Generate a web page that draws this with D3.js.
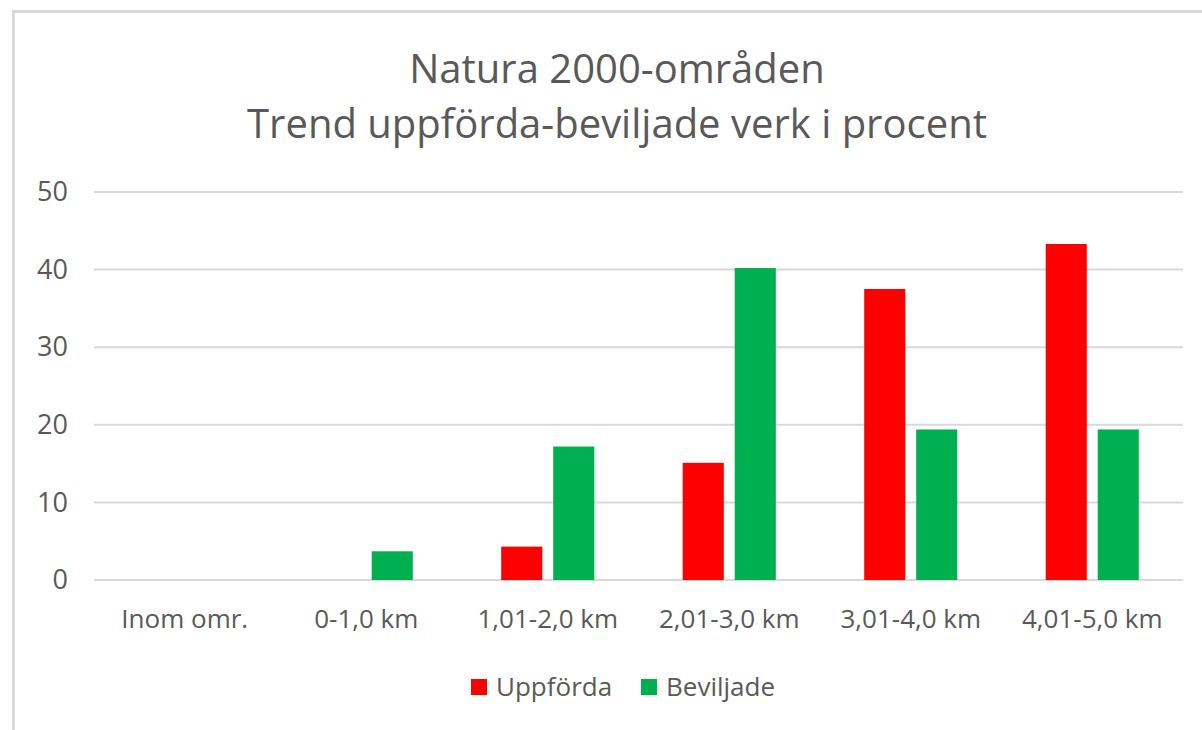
<!DOCTYPE html>
<html>
<head>
<meta charset="utf-8">
<script src="https://cdn.jsdelivr.net/npm/d3@7"></script>
<style>
  body { margin: 0; background: #fff; }
  svg { display: block; font-family: "Open Sans", sans-serif; }
</style>
</head>
<body>
<div id="chart"></div>
<script>
const categories = ['Inom omr.', '0-1,0 km', '1,01-2,0 km', '2,01-3,0 km', '3,01-4,0 km', '4,01-5,0 km'];
const seriesNames = ['Uppförda', 'Beviljade'];
const uppforda = [0, 0, 4.3, 15.1, 37.5, 43.3];
const beviljade = [0, 3.7, 17.2, 40.2, 19.4, 19.4];
const yTicks = [0, 10, 20, 30, 40, 50];
const titleLines = ['Natura 2000-områden', 'Trend uppförda-beviljade verk i procent'];

const W = 1202, H = 730;
const margin = { left: 94, right: 19, top: 192, bottom: 150 };
const colors = { 'Uppförda': '#ff0000', 'Beviljade': '#00b050' };
const textColor = '#595959';

const svg = d3.select('#chart').append('svg')
  .attr('width', W).attr('height', H);

// chart area frame (cropped on right/bottom)
svg.append('rect')
  .attr('x', 13.5).attr('y', 11.5)
  .attr('width', W + 20).attr('height', H + 20)
  .attr('fill', 'none').attr('stroke', '#d9d9d9').attr('stroke-width', 3);

const x0 = d3.scaleBand()
  .domain(categories)
  .range([margin.left, W - margin.right])
  .padding(0);

const x1 = d3.scaleBand()
  .domain(seriesNames)
  .range([0, x0.bandwidth()])
  .paddingInner(0.21)
  .paddingOuter(0.85);

const y = d3.scaleLinear()
  .domain([0, 50])
  .range([H - margin.bottom, margin.top]);

// gridlines
svg.append('g')
  .selectAll('line')
  .data(yTicks)
  .join('line')
  .attr('x1', margin.left).attr('x2', W - margin.right)
  .attr('y1', d => y(d)).attr('y2', d => y(d))
  .attr('stroke', '#d9d9d9').attr('stroke-width', 2);

// y axis labels
const yAxis = d3.axisLeft(y).tickValues(yTicks).tickSize(0).tickPadding(0);
svg.append('g')
  .attr('transform', `translate(68,0)`)
  .call(yAxis)
  .call(g => g.select('.domain').remove())
  .call(g => g.selectAll('text')
    .attr('fill', textColor)
    .attr('font-size', 27)
    .attr('font-family', '"Open Sans", sans-serif'));

// bars
const table = categories.map((c, i) => ({ cat: c, values: [
  { key: 'Uppförda', value: uppforda[i] },
  { key: 'Beviljade', value: beviljade[i] }
]}));

svg.append('g')
  .selectAll('g')
  .data(table)
  .join('g')
  .attr('transform', d => `translate(${x0(d.cat)},0)`)
  .selectAll('rect')
  .data(d => d.values.filter(v => v.value > 0))
  .join('rect')
  .attr('x', d => x1(d.key))
  .attr('width', x1.bandwidth())
  .attr('y', d => y(d.value))
  .attr('height', d => y(0) - y(d.value))
  .attr('fill', d => colors[d.key]);

// x axis labels
const xAxis = d3.axisBottom(x0).tickSize(0).tickPadding(0);
svg.append('g')
  .attr('transform', `translate(0,${y(0) + 30})`)
  .call(xAxis)
  .call(g => g.select('.domain').remove())
  .call(g => g.selectAll('text')
    .attr('fill', textColor)
    .attr('font-size', 26)
    .attr('font-family', '"Open Sans", sans-serif'));

// title
svg.append('text')
  .attr('text-anchor', 'middle')
  .attr('fill', textColor)
  .attr('font-size', 40)
  .selectAll('tspan')
  .data(titleLines)
  .join('tspan')
  .attr('x', 617)
  .attr('y', (d, i) => 83 + i * 55)
  .text(d => d);

// legend
const legend = svg.append('g').attr('transform', 'translate(471,687)');
const item = legend.selectAll('g')
  .data(seriesNames)
  .join('g')
  .attr('transform', (d, i) => `translate(${i * 170},0)`);
item.append('rect')
  .attr('x', 0).attr('y', -8)
  .attr('width', 16).attr('height', 16)
  .attr('fill', d => colors[d]);
item.append('text')
  .attr('x', 25).attr('dy', '0.35em')
  .attr('fill', textColor)
  .attr('font-size', 26)
  .text(d => d);
</script>
</body>
</html>
